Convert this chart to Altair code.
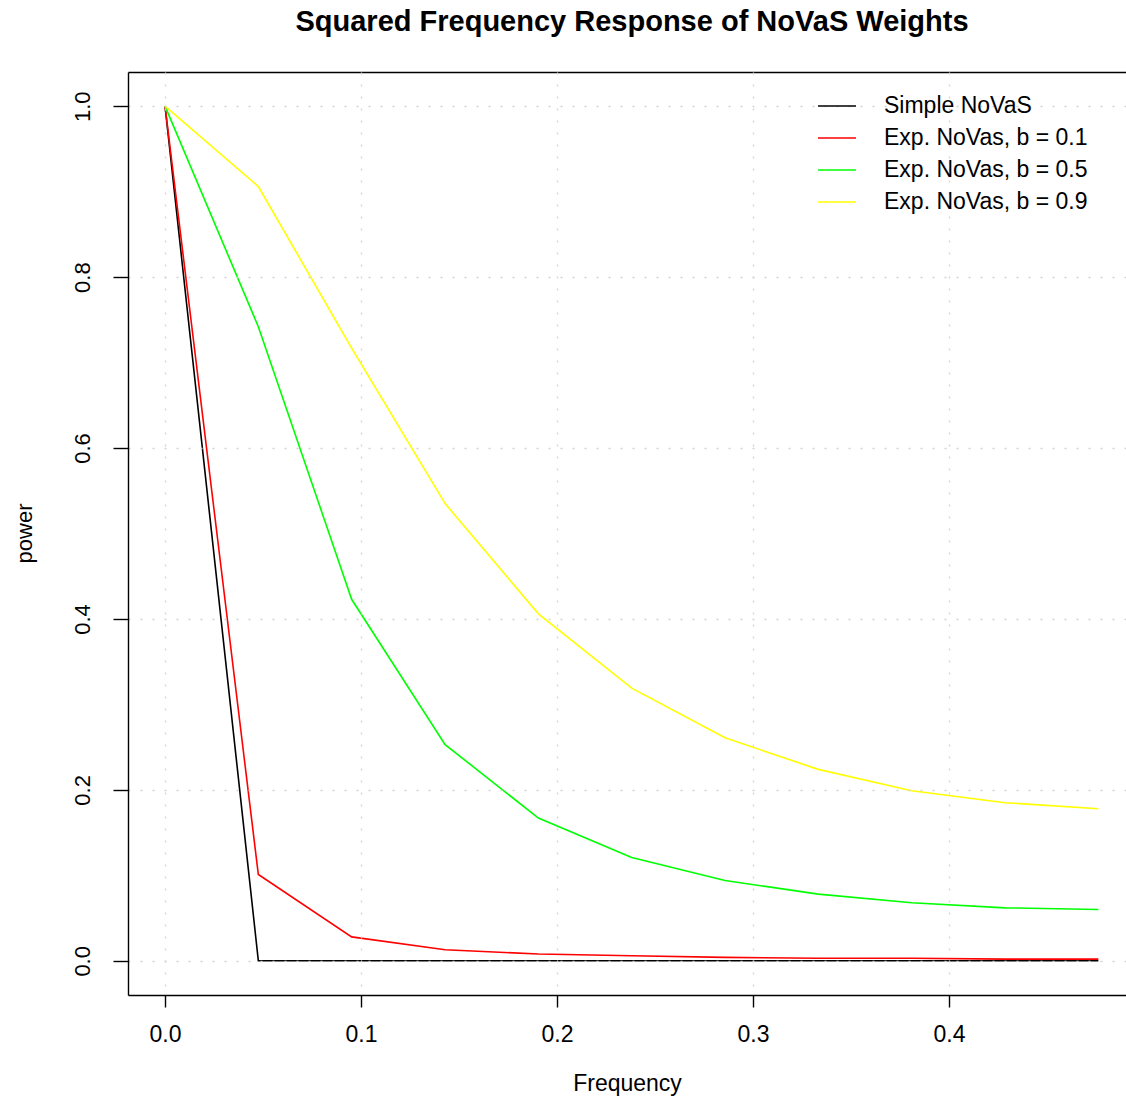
import altair as alt
import pandas as pd

# ---- data ----
freq = [0.0, 0.0476, 0.0952, 0.1429, 0.1905, 0.2381, 0.2857, 0.3333, 0.3810, 0.4286, 0.4762]
simple_novas = [1.0, 0.0, 0.0, 0.0, 0.0, 0.0, 0.0, 0.0, 0.0, 0.0, 0.0]
exp_b01 = [1.0, 0.101, 0.028, 0.013, 0.008, 0.006, 0.004, 0.003, 0.003, 0.002, 0.002]
exp_b05 = [1.0, 0.742, 0.423, 0.253, 0.167, 0.121, 0.094, 0.078, 0.068, 0.062, 0.060]
exp_b09 = [1.0, 0.906, 0.717, 0.535, 0.406, 0.319, 0.261, 0.224, 0.199, 0.185, 0.178]

series_labels = ["Simple NoVaS", "Exp. NoVas, b = 0.1", "Exp. NoVas, b = 0.5", "Exp. NoVas, b = 0.9"]
series_colors = ["black", "#ff0000", "#00ff00", "#ffff00"]

x_ticks = [0.0, 0.1, 0.2, 0.3, 0.4]
y_ticks = [0.0, 0.2, 0.4, 0.6, 0.8, 1.0]

rows = []
for k, (lab, vals) in enumerate(zip(series_labels, [simple_novas, exp_b01, exp_b05, exp_b09])):
    for f, v in zip(freq, vals):
        rows.append({"series": lab, "k": k, "freq": f, "power": v})
df = pd.DataFrame(rows)

FONT = "Liberation Sans"
x_scale = alt.Scale(domain=[-0.0189, 0.4903], nice=False, zero=False)
y_scale = alt.Scale(domain=[-0.04, 1.04], nice=False, zero=False)

lines = alt.Chart(df).mark_line(strokeWidth=1.6).encode(
    x=alt.X("freq:Q", scale=x_scale,
            axis=alt.Axis(values=x_ticks, format=".1f", title="Frequency", orient="bottom",
                          grid=True, gridColor="#d3d3d3", gridDash=[2, 10], gridWidth=1.3,
                          domain=True, domainColor="black", domainWidth=1.4,
                          tickColor="black", tickSize=12, tickWidth=1.4,
                          labelFont=FONT, labelFontSize=23, labelColor="black",
                          labelBaseline="middle", labelPadding=27,
                          titleFont=FONT, titleFontSize=23, titleFontWeight="normal",
                          titleColor="black", titleY=88, titleBaseline="middle",
                          labelFlush=False, zindex=1)),
    y=alt.Y("power:Q", scale=y_scale,
            axis=alt.Axis(values=y_ticks, format=".1f", title="power", orient="left",
                          grid=True, gridColor="#d3d3d3", gridDash=[2, 10], gridWidth=1.3,
                          domain=True, domainColor="black", domainWidth=1.4,
                          tickColor="black", tickSize=15, tickWidth=1.4,
                          labelFont=FONT, labelFontSize=22, labelColor="black",
                          labelAngle=270, labelAlign="center", labelBaseline="middle",
                          labelPadding=31, labelFlush=False,
                          titleFont=FONT, titleFontSize=22, titleFontWeight="normal",
                          titleColor="black", titleAngle=270, titleX=-104, titleY=461,
                          titleAlign="center", titleBaseline="middle", zindex=1)),
    color=alt.Color("series:N", sort=series_labels,
                    scale=alt.Scale(domain=series_labels, range=series_colors),
                    legend=alt.Legend(title=None, orient="none", legendX=689, legendY=14,
                                      symbolType="stroke", symbolSize=1444,
                                      symbolStrokeWidth=1.6, labelFont=FONT,
                                      labelFontSize=23, labelColor="black", labelLimit=400,
                                      labelOffset=27, rowPadding=0, padding=0, zindex=2)),
    order=alt.Order("k:Q"),
)

top_frame = alt.Chart(df).mark_point(opacity=0).encode(
    x=alt.X("freq:Q", scale=x_scale,
            axis=alt.Axis(orient="top", labels=False, ticks=False, grid=False, domain=True,
                          domainColor="black", domainWidth=1.4, title="")),
)

chart = alt.layer(lines, top_frame).resolve_axis(x="independent").properties(
    width=998,
    height=923,
    padding={"left": 128, "top": 72, "right": 0, "bottom": 102},
    autosize=alt.AutoSizeParams(type="none"),
    background="white",
    title=alt.TitleParams("Squared Frequency Response of NoVaS Weights", font=FONT,
                          fontSize=29, fontWeight="bold", color="black", anchor="middle",
                          baseline="alphabetic", offset=12, dx=5),
).configure_view(stroke="transparent")

chart.save("out.html", embed_options={"renderer": "svg", "actions": False})
